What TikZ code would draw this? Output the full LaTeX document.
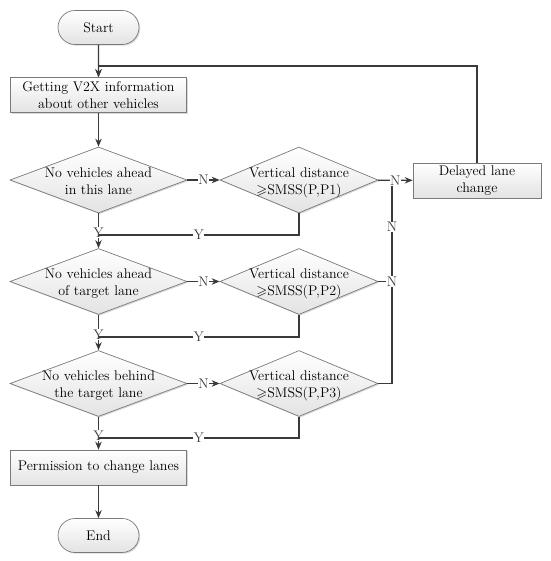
\documentclass[tikz,border=0pt]{standalone}
\usepackage{amssymb}
\usetikzlibrary{shapes.geometric,shapes.misc,arrows.meta,shadows}
\definecolor{ln}{HTML}{3A3A3A}
\definecolor{bd}{HTML}{7A7A7A}
\newcommand{\dtxt}[1]{\makebox[0pt]{\smash{\raisebox{-6pt}{\begin{tabular}{@{}c@{}}#1\end{tabular}}}}}
\begin{document}
\begin{tikzpicture}[x=1pt,y=-1pt,
  font=\fontsize{14}{17}\selectfont,
  shp/.style={draw=bd, line width=0.7pt, top color=white, bottom color=gray!22,
    drop shadow={shadow xshift=1.2pt,shadow yshift=-1.2pt,opacity=0.3}},
  term/.style={shp, rounded rectangle, minimum width=81pt, minimum height=34pt, inner sep=0pt},
  proc/.style={shp, rectangle, minimum width=176pt, minimum height=35pt, inner sep=0pt, align=center},
  dia/.style={shp, diamond, minimum width=177pt, minimum height=66pt, inner sep=0pt},
  pdia/.style={dia, minimum width=158pt},
  conn/.style={draw=ln, line width=1.1pt},
  arr/.style={conn, -{Stealth[length=8pt,width=6.5pt]}},
  lbl/.style={fill=white, inner sep=0.6pt, text=ln}
]
\useasboundingbox (0,0) rectangle (550,561);

\node[term] (start) at (98.5,27.5) {Start};
\node[proc] (v2x) at (98.5,95) {Getting V2X information\\about other vehicles};
\node[dia] (d1) at (98.5,180) {\dtxt{No vehicles ahead\\in this lane}};
\node[pdia] (p1) at (299,180) {\dtxt{Vertical distance\\$\geqslant$SMSS(P,P1)}};
\node[proc, minimum width=128pt] (del) at (477,180.5) {Delayed lane\\change};
\node[dia] (d2) at (98.5,281.5) {\dtxt{No vehicles ahead\\of target lane}};
\node[pdia] (p2) at (299,281.5) {\dtxt{Vertical distance\\$\geqslant$SMSS(P,P2)}};
\node[dia] (d3) at (98.5,383.5) {\dtxt{No vehicles behind\\the target lane}};
\node[pdia] (p3) at (299,383.5) {\dtxt{Vertical distance\\$\geqslant$SMSS(P,P3)}};
\node[proc] (perm) at (98.5,467.5) {Permission to change lanes};
\node[term] (end) at (98.5,535.5) {End};

\coordinate (top) at (98.5,66);
\coordinate (j) at (392,180);
\coordinate (y1) at (98.5,235);
\coordinate (y2) at (98.5,337);
\coordinate (y3) at (98.5,438);

% main flow
\draw[arr] (start) -- (v2x);
\draw[arr] (del.north) |- (top) -- (v2x.north);
\draw[arr] (v2x) -- (d1);
\draw[arr] (d1) -- node[lbl,pos=0.5,yshift=-2pt] (yl1) {Y} (d2);
\draw[arr] (d2) -- node[lbl,pos=0.5,yshift=-2pt] (yl2) {Y} (d3);
\draw[arr] (d3) -- node[lbl,pos=0.5,yshift=-2pt] (yl3) {Y} (perm);
\draw[arr] (perm) -- (end);

% N branches
\draw[arr] (d1) -- node[lbl] (n1) {N} (p1);
\draw[arr] (d2) -- node[lbl] (n2) {N} (p2);
\draw[arr] (d3) -- node[lbl] (n3) {N} (p3);
\draw[conn] (p3.east) -| (j);
\draw[conn] (p2.east) -- (p2.east -| j);
\node[lbl] (nv) at (392,227) {N};
\node[lbl] (nj) at (p2.east -| j) {N};
\draw[arr] (p1) -- node[lbl,pos=0.5] (np) {N} (del);

% Y branches
\draw[conn] (p1.south) |- node[lbl,pos=0.75] (yh1) {Y} (y1);
\draw[conn] (p2.south) |- node[lbl,pos=0.75] (yh2) {Y} (y2);
\draw[conn] (p3.south) |- node[lbl,pos=0.75] (yh3) {Y} (y3);
\end{tikzpicture}
\end{document}
